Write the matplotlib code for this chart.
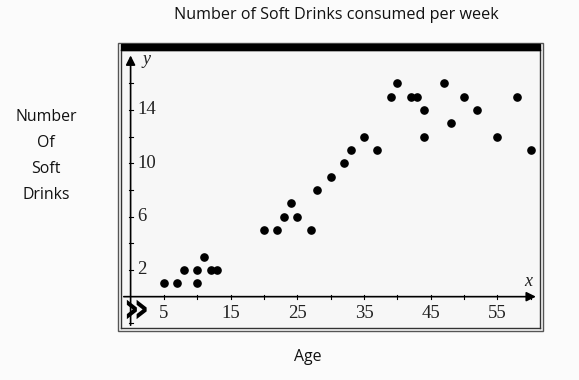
import matplotlib.pyplot as plt
from matplotlib.patches import Rectangle

age = [5, 7, 8, 10, 10, 11, 12, 13, 20, 22, 23, 24, 25, 27, 28, 30, 32, 33,
       35, 37, 39, 40, 42, 43, 44, 44, 47, 48, 50, 52, 55, 58, 60]
drinks = [1, 1, 2, 2, 1, 3, 2, 2, 5, 5, 6, 7, 6, 5, 8, 9, 10, 11,
          12, 11, 15, 16, 15, 15, 14, 12, 16, 13, 15, 14, 12, 15, 11]

x_labels = [5, 15, 25, 35, 45, 55]
y_labels = [2, 6, 10, 14]

W, H = 579, 380
fig = plt.figure(figsize=(W / 100, H / 100), dpi=100)
fig.patch.set_facecolor("#fbfbfb")

# plot box in pixels
L, R, T, B = 121, 540, 50, 328
ax = fig.add_axes([L / W, 1 - B / H, (R - L) / W, (B - T) / H])
ax.set_facecolor("#f7f7f7")
ax.set_xlim(-1.44, 61.4)
ax.set_ylim(-2.35, 18.5)
ax.set_xticks([])
ax.set_yticks([])
for s in ax.spines.values():
    s.set_color("#333333")
    s.set_linewidth(1.0)

# outer frame and thick top bar
fig.patches.append(Rectangle((118 / W, 1 - 331 / H), 425 / W, 288 / H,
                             transform=fig.transFigure, fill=False,
                             edgecolor="#555555", linewidth=1.0))
fig.patches.append(Rectangle((121 / W, 1 - 50 / H), 419 / W, 6 / H,
                             transform=fig.transFigure, color="black"))

# axes with arrows
ax.annotate("", xy=(61.2, 0), xytext=(-1.44, 0),
            arrowprops=dict(arrowstyle="-|>", color="black", lw=1.2,
                            mutation_scale=14))
ax.annotate("", xy=(0, 18.3), xytext=(0, -2.35),
            arrowprops=dict(arrowstyle="-|>", color="black", lw=1.2,
                            mutation_scale=14))

# small tick marks
for xv in range(5, 61, 5):
    ax.plot([xv, xv], [-0.15, 0.15], color="black", lw=0.8)
for yv in range(-2, 18, 2):
    if yv != 0:
        ax.plot([-0.3, 0.3], [yv, yv], color="black", lw=0.8)

serif = "Liberation Serif"
for xv in x_labels:
    ax.text(xv, -0.6, str(xv), ha="center", va="top", fontsize=13.5,
            family=serif, color="#222222")
for yv in y_labels:
    ax.text(1.0, yv, str(yv), ha="left", va="center", fontsize=13.5,
            family=serif, color="#222222")
ax.text(2.4, 17.8, "y", ha="center", va="center", fontsize=13,
        family=serif, style="italic", color="#222222")
ax.text(59.7, 1.1, "x", ha="center", va="center", fontsize=13,
        family=serif, style="italic", color="#222222")
ax.text(0.75, -1.0, "\u00bb", ha="center", va="center", fontsize=30,
        fontweight="bold", color="black")

ax.plot(age, drinks, "o", color="black", markersize=5.2)

sans = "Open Sans"
fig.text(336 / W, 1 - 15 / H, "Number of Soft Drinks consumed per week",
         ha="center", va="center", fontsize=11.6, family=sans, color="#111111")
for i, word in enumerate(["Number", "Of", "Soft", "Drinks"]):
    fig.text(46 / W, 1 - (117 + 26 * i) / H, word, ha="center", va="center",
             fontsize=11.4, family=sans, color="#111111")
fig.text(308 / W, 1 - 357 / H, "Age", ha="center", va="center",
         fontsize=11.4, family=sans, color="#111111")

fig.savefig("out.png", dpi=100, facecolor=fig.get_facecolor())
